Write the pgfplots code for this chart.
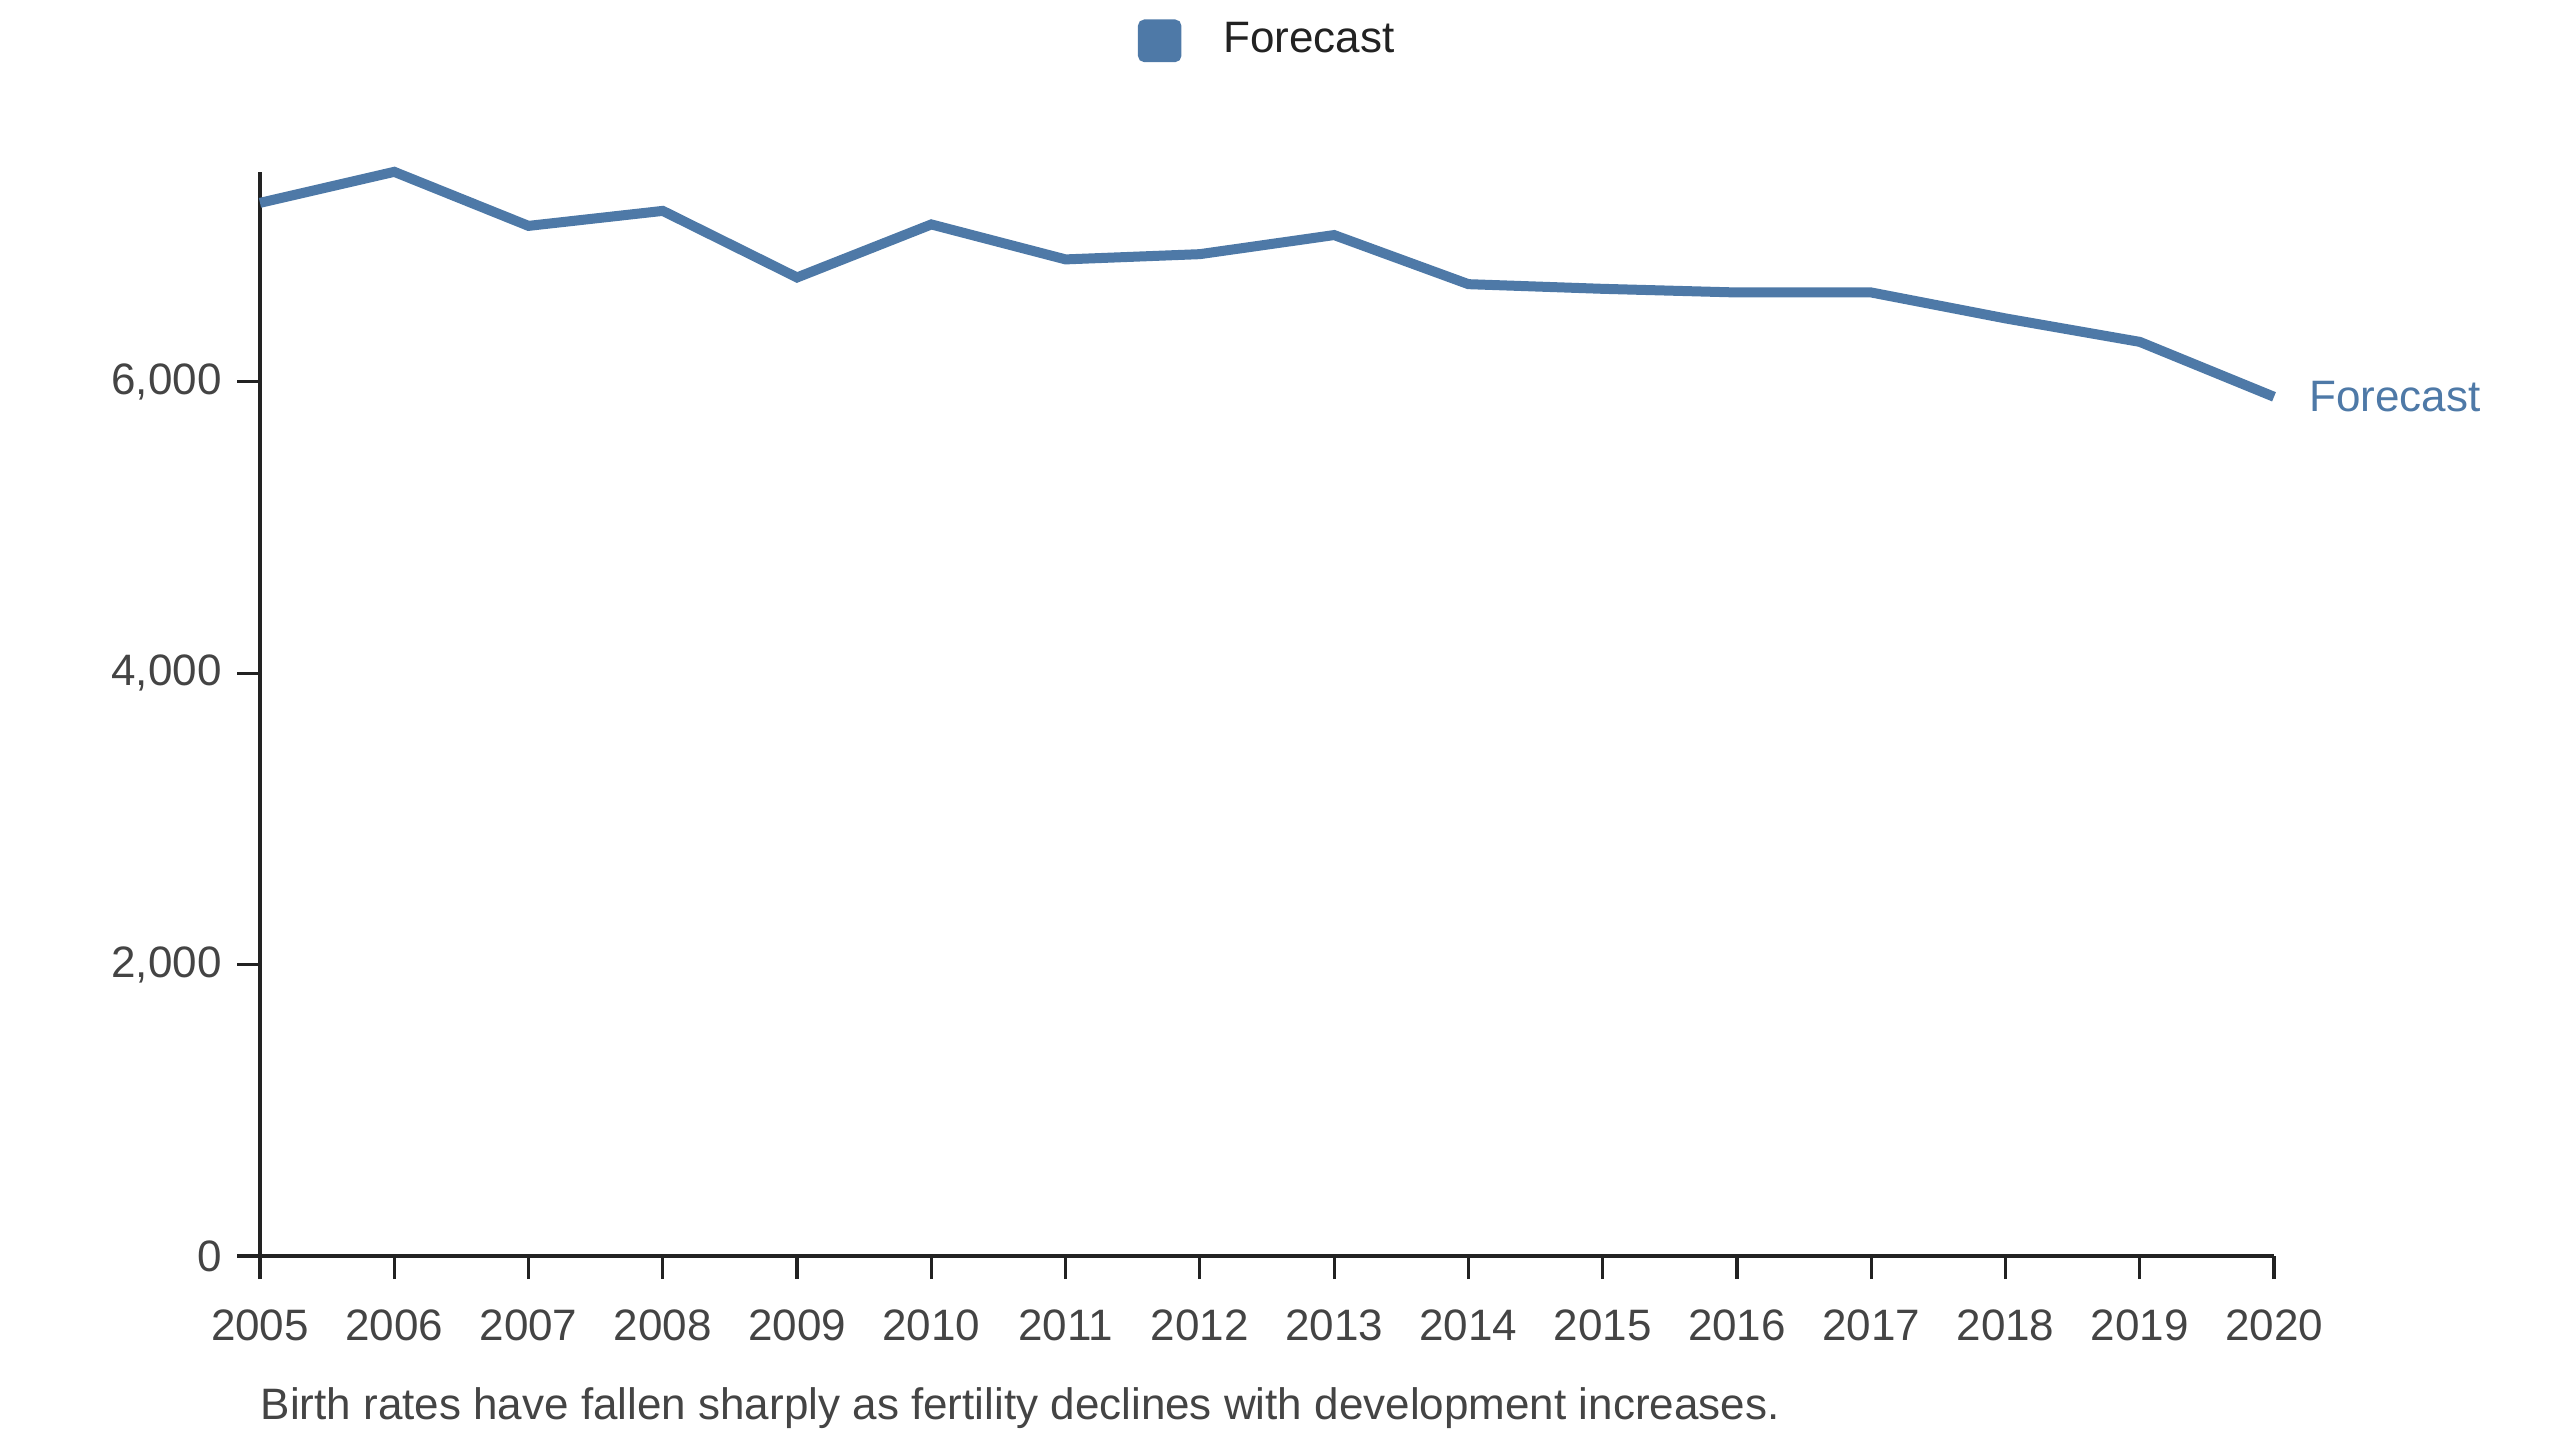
\documentclass[border=0pt]{standalone}
\usepackage{fontspec}
\setmainfont{Liberation Sans}
\usepackage{pgfplots}
\pgfplotsset{compat=1.18}
\definecolor{fc}{HTML}{4E79A7}
\definecolor{tk}{HTML}{444444}
\definecolor{ax}{HTML}{222222}
\begin{document}
\fontsize{11bp}{13.2bp}\selectfont
\begin{tikzpicture}
\useasboundingbox (-65bp,-46bp) rectangle (575bp,314bp);
\begin{axis}[
  at={(0,0)}, anchor=south west,
  scale only axis, width=503.5bp, height=271bp,
  xmin=2005, xmax=2020, ymin=0, ymax=7440,
  clip=false,
  axis x line=bottom, axis y line=left,
  axis line style={-, ax, line width=0.9bp},
  xtick={2005,2006,2007,2008,2009,2010,2011,2012,2013,2014,2015,2016,2017,2018,2019,2020},
  xticklabels={2005,2006,2007,2008,2009,2010,2011,2012,2013,2014,2015,2016,2017,2018,2019,2020},
  ytick={0,2000,4000,6000},
  /pgf/number format/assume math mode=true,
  /pgf/number format/1000 sep={,},
  tick align=outside, major tick length=5.75bp,
  tick style={ax, line width=0.8bp},
  tick label style={text=tk, font=\fontsize{11bp}{13.2bp}\selectfont},
  xticklabel style={yshift=-3.8bp},
  legend style={draw=none, fill=none, at={(0.5016,1.121)}, anchor=center,
    font=\fontsize{11bp}{13.2bp}\selectfont, text=ax, column sep=8.5bp},
  legend image code/.code={\fill[fc, rounded corners=0.6bp] (0bp,-4.1bp) rectangle (8.4bp,4.1bp);},
]
\addplot[fc, line width=2.5bp, line join=miter, line cap=butt] coordinates {
(2005,7228) (2006,7441) (2007,7070) (2008,7173) (2009,6716) (2010,7080)
(2011,6840) (2012,6876) (2013,7007) (2014,6670) (2015,6638) (2016,6613)
(2017,6613) (2018,6435) (2019,6274) (2020,5897)};
\addlegendentry{Forecast}
\node[anchor=west, text=fc, xshift=5bp] at (axis cs:2020,5897) {Forecast};
\node[anchor=base west, inner sep=0pt, text=tk] at ([yshift=-40.75bp]rel axis cs:0,0) {Birth rates have fallen sharply as fertility declines with development increases.};
\end{axis}
\end{tikzpicture}
\end{document}
